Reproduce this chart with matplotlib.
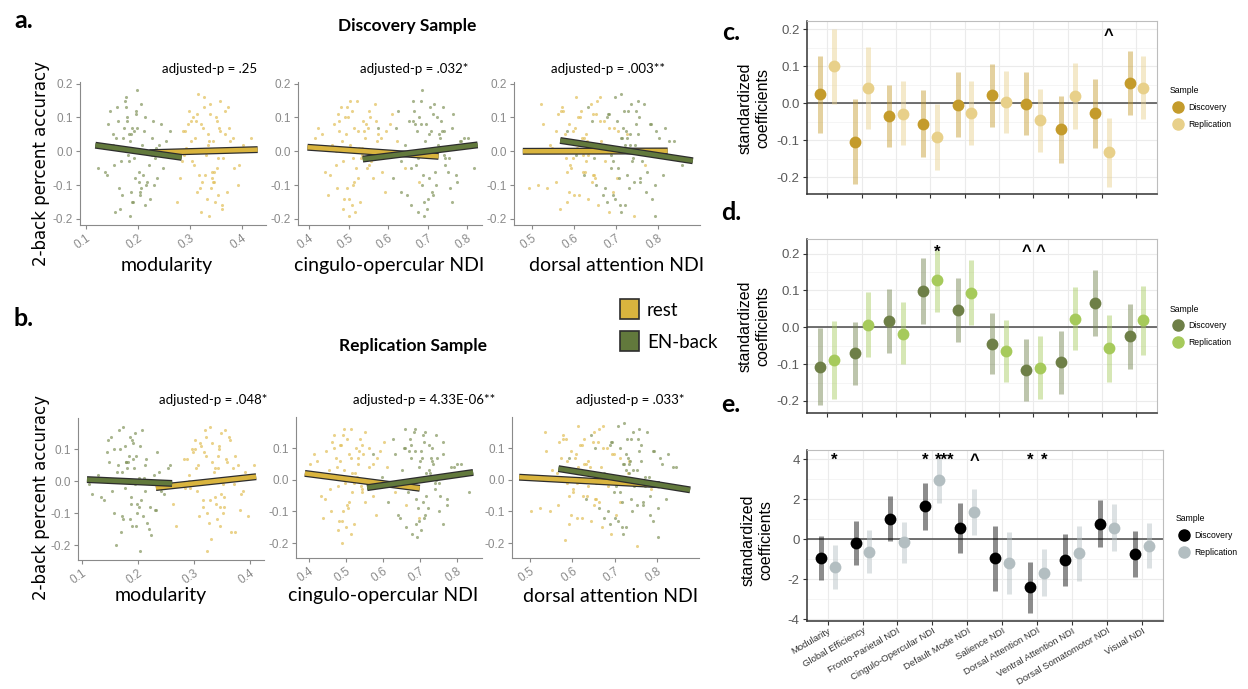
import numpy as np
import matplotlib.pyplot as plt
import matplotlib.patheffects as pe
from matplotlib.lines import Line2D
from matplotlib.patches import Rectangle

plt.rcParams['axes.unicode_minus'] = False

# ---- scatter clouds (approximate) ----
disc_mod_nback_x = [0.193,0.168,0.214,0.151,0.187,0.226,0.202,0.159,0.245,0.190,0.134,0.176,0.218,0.173,0.232,0.197,0.141,0.185,0.253,0.164,0.182,0.221,0.206,0.124,0.178,0.213,0.195,0.147,0.236,0.181,0.262,0.204,0.156,0.199,0.228,0.183,0.207,0.171,0.215,0.188,
                    0.184,0.209,0.162,0.203,0.234,0.175,0.192,0.143,0.223,0.186,0.201,0.154,0.241,0.196,0.166,0.212,0.137,0.205,0.179,0.227,0.158,0.194,0.248,0.177,0.216,0.169,0.198,0.231,0.152,0.189]
disc_mod_nback_y = [0.06,-0.03,0.10,0.02,-0.12,0.04,-0.06,0.13,0.08,-0.15,0.01,0.16,-0.09,0.07,-0.02,0.11,-0.07,-0.19,0.03,-0.11,0.05,-0.04,0.14,-0.05,0.09,-0.16,0.00,0.12,-0.08,-0.01,0.06,-0.13,-0.18,0.18,0.09,-0.03,0.02,0.04,-0.10,0.07,
                    0.03,-0.07,0.09,-0.12,0.01,0.15,-0.02,0.08,-0.14,0.05,-0.09,-0.04,0.02,0.12,-0.17,0.06,-0.06,-0.11,0.10,-0.01,0.04,-0.08,-0.05,0.13,0.00,-0.13,0.07,-0.10,0.05,-0.15]
disc_mod_rest_x = [0.334,0.307,0.352,0.293,0.341,0.373,0.318,0.302,0.364,0.327,0.274,0.356,0.385,0.313,0.346,0.402,0.322,0.287,0.368,0.331,0.354,0.296,0.418,0.343,0.316,0.377,0.281,0.349,0.336,0.309,0.392,0.338,0.303,0.361,0.324,0.345,0.329,0.357,0.312,0.371,
                   0.321,0.353,0.298,0.344,0.376,0.332,0.291,0.366,0.306,0.347,0.383,0.319,0.358,0.284,0.335,0.362,0.301,0.342,0.409,0.326,0.351,0.314,0.374,0.339,0.289,0.348,0.367,0.323,0.394,0.337]
disc_mod_rest_y = [0.05,-0.04,0.09,0.01,-0.11,0.13,-0.07,0.03,-0.02,0.16,-0.15,0.07,-0.05,0.11,-0.09,0.02,-0.18,0.06,0.12,-0.01,-0.13,0.08,0.04,-0.06,0.17,0.00,-0.08,0.10,-0.19,0.04,-0.10,0.14,-0.03,-0.16,0.07,0.03,-0.07,0.06,0.09,-0.12,
                   0.08,-0.02,0.12,-0.09,0.03,-0.14,0.06,0.00,0.10,-0.06,0.04,-0.11,0.15,-0.03,0.02,-0.17,0.09,-0.08,0.01,0.13,-0.05,-0.12,0.07,0.11,-0.01,-0.15,0.05,-0.09,-0.04,0.03]
disc_co_rest_x = [0.523,0.487,0.554,0.458,0.512,0.583,0.496,0.441,0.545,0.528,0.467,0.562,0.611,0.493,0.517,0.423,0.551,0.504,0.593,0.476,0.534,0.452,0.572,0.508,0.643,0.501,0.538,0.472,0.526,0.604,0.489,0.566,0.414,0.531,0.678,0.515,0.483,0.547,0.498,0.574,
                  0.503,0.536,0.468,0.553,0.514,0.477,0.564,0.521,0.447,0.542,0.492,0.586,0.509,0.463,0.533,0.497,0.622,0.481,0.557,0.524,0.432,0.569,0.502,0.544,0.474,0.518,0.596,0.486,0.549,0.511]
disc_co_rest_y = [0.06,-0.03,0.10,0.02,-0.10,0.04,0.13,-0.06,0.08,-0.15,0.00,-0.08,0.11,0.05,-0.18,0.07,-0.04,0.15,-0.12,0.09,-0.01,-0.07,0.03,0.12,-0.05,-0.19,0.06,-0.11,0.01,0.08,-0.14,0.14,0.04,-0.02,-0.09,0.07,0.03,-0.05,0.10,0.05,
                  0.02,0.09,-0.04,0.12,-0.09,0.06,-0.01,0.15,-0.13,0.04,0.10,-0.06,-0.16,0.08,0.01,-0.11,0.03,0.13,-0.03,-0.08,0.05,0.09,-0.14,0.00,0.11,-0.05,0.06,-0.17,0.07,-0.02]
disc_co_nback_x = [0.703,0.671,0.734,0.642,0.712,0.763,0.688,0.624,0.745,0.683,0.721,0.784,0.657,0.697,0.593,0.752,0.714,0.648,0.803,0.692,0.736,0.632,0.707,0.774,0.679,0.743,0.574,0.701,0.726,0.663,0.818,0.686,0.756,0.612,0.717,0.731,0.676,0.709,0.762,0.668,
                   0.694,0.723,0.658,0.738,0.705,0.673,0.754,0.716,0.633,0.728,0.684,0.772,0.699,0.652,0.724,0.687,0.792,0.667,0.744,0.713,0.621,0.765,0.691,0.733,0.662,0.718,0.783,0.677,0.741,0.706]
disc_co_nback_y = [0.05,-0.04,0.09,0.02,-0.12,0.07,-0.07,0.12,-0.02,0.15,-0.10,0.03,-0.16,0.08,0.00,-0.06,0.11,-0.13,0.04,-0.19,0.06,-0.03,0.13,-0.09,0.10,-0.01,0.07,-0.14,0.02,0.09,-0.05,0.18,-0.11,-0.08,0.01,0.04,-0.02,0.06,-0.15,0.08,
                   0.03,0.10,-0.05,0.13,-0.08,0.06,-0.02,0.14,-0.12,0.05,0.08,-0.07,-0.17,0.09,0.00,-0.10,0.04,0.12,-0.04,-0.13,0.07,0.11,-0.15,0.01,0.15,-0.06,0.03,-0.18,0.06,-0.01]
disc_da_rest_x = [0.624,0.583,0.652,0.547,0.613,0.684,0.598,0.521,0.643,0.628,0.567,0.661,0.714,0.593,0.617,0.492,0.664,0.604,0.702,0.558,0.634,0.542,0.673,0.609,0.742,0.587,0.646,0.572,0.621,0.693,0.579,0.654,0.513,0.631,0.768,0.602,0.657,0.562,0.626,0.723,
                  0.597,0.633,0.574,0.648,0.612,0.584,0.672,0.619,0.536,0.641,0.591,0.694,0.608,0.556,0.644,0.601,0.726,0.582,0.663,0.622,0.527,0.683,0.606,0.651,0.569,0.629,0.704,0.588,0.662,0.614]
disc_da_rest_y = [0.04,-0.06,0.11,0.01,-0.13,0.07,-0.02,0.14,-0.09,0.05,-0.17,0.09,0.00,-0.05,0.12,-0.11,0.03,0.16,-0.08,0.06,-0.14,0.02,-0.03,0.10,-0.19,0.08,-0.07,0.13,-0.01,-0.12,0.05,0.15,-0.10,0.03,-0.04,0.07,-0.16,0.11,-0.06,0.01,
                  0.06,-0.01,0.12,-0.07,0.02,-0.15,0.09,0.04,-0.11,0.14,-0.04,0.07,0.01,-0.09,0.11,-0.13,0.05,-0.02,0.16,-0.06,0.08,-0.18,0.03,-0.08,0.12,-0.03,0.06,-0.12,0.00,0.10]
disc_da_nback_x = [0.723,0.687,0.754,0.663,0.732,0.784,0.708,0.634,0.762,0.698,0.743,0.803,0.679,0.717,0.604,0.774,0.728,0.668,0.827,0.712,0.752,0.647,0.736,0.792,0.703,0.764,0.583,0.721,0.744,0.682,0.856,0.713,0.771,0.623,0.734,0.748,0.693,0.726,0.786,0.812,
                   0.714,0.738,0.684,0.757,0.718,0.692,0.782,0.733,0.652,0.753,0.704,0.796,0.722,0.673,0.747,0.709,0.838,0.688,0.766,0.727,0.643,0.794,0.711,0.758,0.678,0.741,0.817,0.697,0.773,0.719]
disc_da_nback_y = [0.06,-0.05,0.10,0.01,-0.11,0.08,-0.08,0.13,-0.03,0.16,-0.09,0.04,-0.15,0.07,-0.01,-0.06,0.12,-0.13,0.03,-0.18,0.05,-0.02,0.14,-0.10,0.09,0.00,0.06,-0.16,0.02,0.11,-0.04,0.17,-0.12,-0.07,0.02,0.08,-0.03,0.04,-0.14,-0.07,
                   0.04,-0.03,0.11,-0.08,0.01,-0.13,0.08,0.05,-0.10,0.15,-0.05,0.06,0.02,-0.11,0.12,-0.16,0.03,-0.01,0.14,-0.07,0.09,-0.19,0.04,-0.09,0.10,-0.02,0.07,-0.14,0.00,0.12]

rep_mod_nback_x = [0.192,0.177,0.204,0.163,0.171,0.213,0.188,0.152,0.234,0.197,0.128,0.174,0.221,0.183,0.242,0.191,0.139,0.203,0.254,0.158,0.179,0.212,0.194,0.118,0.168,0.224,0.201,0.147,0.233,0.182,0.258,0.186,0.161,0.208,0.113,0.184,0.199,0.172,0.219,0.193,
                   0.181,0.205,0.157,0.209,0.228,0.166,0.195,0.144,0.217,0.178,0.202,0.153,0.238,0.189,0.169,0.214,0.134,0.198,0.176,0.226,0.164,0.187,0.247,0.185,0.211,0.173,0.196,0.231,0.149,0.190]
rep_mod_nback_y = [0.07,-0.02,0.11,0.03,-0.11,0.05,-0.05,0.14,0.09,-0.14,0.02,0.17,-0.08,0.06,-0.03,0.12,-0.06,-0.22,0.04,-0.10,0.06,-0.03,0.15,-0.04,0.10,-0.17,0.01,0.13,-0.09,0.00,0.05,-0.12,-0.20,0.16,-0.01,0.08,-0.07,0.03,-0.15,0.04,
                   0.04,-0.06,0.10,-0.11,0.02,0.16,-0.01,0.09,-0.13,0.06,-0.08,-0.03,0.03,0.13,-0.16,0.07,-0.05,-0.10,0.11,0.00,0.05,-0.07,-0.04,0.14,0.01,-0.12,0.08,-0.09,0.06,-0.14]
rep_mod_rest_x = [0.332,0.306,0.344,0.292,0.351,0.363,0.317,0.303,0.372,0.328,0.268,0.343,0.384,0.311,0.353,0.391,0.323,0.282,0.364,0.334,0.341,0.298,0.408,0.354,0.319,0.362,0.262,0.345,0.331,0.308,0.383,0.348,0.293,0.374,0.321,0.342,0.329,0.358,0.302,0.397,
                  0.318,0.352,0.301,0.346,0.369,0.327,0.288,0.361,0.313,0.338,0.379,0.324,0.355,0.284,0.336,0.366,0.297,0.339,0.401,0.322,0.349,0.309,0.373,0.333,0.291,0.347,0.359,0.316,0.388,0.337]
rep_mod_rest_y = [0.06,-0.03,0.10,0.02,-0.10,0.14,-0.06,0.04,-0.01,0.17,-0.14,0.08,-0.04,0.12,-0.08,0.03,-0.22,0.07,0.13,0.00,-0.12,0.09,0.05,-0.05,0.16,0.01,-0.07,0.11,-0.18,0.05,-0.09,0.15,-0.02,-0.16,0.08,0.04,-0.06,0.07,0.10,-0.11,
                  0.09,-0.01,0.13,-0.08,0.04,-0.13,0.07,0.01,0.11,-0.05,0.05,-0.10,0.16,-0.02,0.03,-0.16,0.10,-0.07,0.02,0.14,-0.04,-0.11,0.08,0.12,0.00,-0.14,0.06,-0.08,-0.03,0.04]
rep_co_rest_x = [0.513,0.478,0.542,0.453,0.504,0.572,0.491,0.432,0.534,0.522,0.463,0.551,0.603,0.484,0.514,0.412,0.543,0.493,0.582,0.468,0.524,0.443,0.561,0.502,0.632,0.489,0.533,0.458,0.517,0.593,0.481,0.552,0.403,0.521,0.664,0.507,0.474,0.544,0.486,0.698,
                 0.494,0.526,0.457,0.538,0.503,0.472,0.553,0.512,0.437,0.531,0.483,0.574,0.501,0.446,0.523,0.492,0.612,0.467,0.541,0.508,0.421,0.563,0.488,0.529,0.462,0.516,0.584,0.479,0.546,0.497]
rep_co_rest_y = [0.07,-0.02,0.11,0.03,-0.09,0.05,0.14,-0.05,0.09,-0.14,0.01,-0.07,0.12,0.06,-0.17,0.08,-0.03,0.16,-0.11,0.10,0.00,-0.06,0.04,0.13,-0.04,-0.20,0.07,-0.10,0.02,0.09,-0.13,0.15,0.05,-0.01,-0.08,0.08,0.04,-0.04,0.11,-0.12,
                 0.03,0.10,-0.03,0.13,-0.08,0.07,0.00,0.16,-0.12,0.05,0.11,-0.05,-0.15,0.09,0.02,-0.10,0.04,0.14,-0.02,-0.07,0.06,0.10,-0.13,0.01,0.12,-0.04,0.07,-0.16,0.08,-0.01]
rep_co_nback_x = [0.702,0.681,0.733,0.652,0.713,0.764,0.691,0.628,0.742,0.684,0.722,0.793,0.663,0.704,0.598,0.754,0.712,0.647,0.812,0.693,0.731,0.622,0.708,0.773,0.677,0.744,0.572,0.698,0.724,0.659,0.834,0.687,0.752,0.613,0.716,0.737,0.682,0.706,0.763,0.671,
                  0.697,0.726,0.668,0.743,0.709,0.676,0.753,0.714,0.642,0.732,0.688,0.774,0.703,0.657,0.721,0.694,0.802,0.673,0.741,0.711,0.632,0.762,0.689,0.728,0.661,0.717,0.784,0.679,0.746,0.701]
rep_co_nback_y = [0.06,-0.03,0.10,0.03,-0.11,0.08,-0.06,0.13,-0.01,0.15,-0.09,0.04,-0.15,0.09,0.01,-0.05,0.12,-0.12,0.05,-0.18,0.07,-0.02,0.14,-0.08,0.11,0.00,0.08,-0.13,0.03,0.10,-0.04,0.16,-0.10,-0.07,0.02,0.05,-0.01,0.07,-0.14,0.09,
                  0.04,0.11,-0.04,0.14,-0.07,0.07,-0.01,0.15,-0.11,0.06,0.09,-0.06,-0.16,0.10,0.01,-0.09,0.05,0.13,-0.03,-0.12,0.08,0.12,-0.14,0.02,0.16,-0.05,0.04,-0.17,0.07,0.00]
rep_da_rest_x = [0.632,0.593,0.661,0.564,0.622,0.693,0.612,0.534,0.651,0.638,0.583,0.672,0.724,0.602,0.627,0.503,0.668,0.614,0.712,0.573,0.643,0.552,0.684,0.618,0.753,0.597,0.654,0.577,0.631,0.703,0.588,0.663,0.523,0.642,0.786,0.609,0.671,0.568,0.634,0.732,
                 0.606,0.643,0.584,0.657,0.621,0.592,0.682,0.628,0.547,0.652,0.601,0.698,0.616,0.566,0.648,0.611,0.734,0.587,0.673,0.626,0.538,0.692,0.613,0.664,0.579,0.637,0.714,0.596,0.667,0.624]
rep_da_rest_y = [0.05,-0.05,0.12,0.02,-0.12,0.08,-0.01,0.15,-0.08,0.06,-0.19,0.10,0.01,-0.04,0.13,-0.10,0.04,0.17,-0.07,0.07,-0.13,0.03,-0.02,0.11,-0.21,0.09,-0.06,0.14,0.00,-0.11,0.06,0.16,-0.09,0.04,-0.03,0.08,-0.15,0.12,-0.05,0.02,
                 0.07,0.00,0.13,-0.06,0.03,-0.14,0.10,0.05,-0.10,0.15,-0.03,0.08,0.02,-0.08,0.12,-0.12,0.06,-0.01,0.17,-0.05,0.09,-0.17,0.04,-0.07,0.13,-0.02,0.07,-0.11,0.01,0.11]
rep_da_nback_x = [0.732,0.698,0.762,0.674,0.741,0.793,0.717,0.643,0.772,0.708,0.754,0.812,0.689,0.728,0.613,0.783,0.738,0.676,0.838,0.719,0.763,0.657,0.744,0.803,0.712,0.771,0.593,0.727,0.752,0.691,0.864,0.722,0.784,0.632,0.743,0.757,0.703,0.734,0.792,0.821,
                  0.723,0.747,0.694,0.768,0.733,0.702,0.791,0.737,0.662,0.759,0.714,0.807,0.728,0.684,0.756,0.718,0.846,0.697,0.776,0.739,0.653,0.802,0.721,0.767,0.688,0.748,0.826,0.707,0.781,0.729]
rep_da_nback_y = [0.07,-0.04,0.11,0.02,-0.10,0.09,-0.07,0.14,-0.02,0.17,-0.08,0.05,-0.14,0.08,0.00,-0.05,0.13,-0.12,0.04,-0.17,0.06,-0.01,0.15,-0.09,0.10,0.01,0.07,-0.15,0.03,0.12,-0.03,0.18,-0.11,-0.06,0.03,0.09,-0.02,0.05,-0.13,-0.06,
                  0.05,-0.02,0.12,-0.07,0.02,-0.12,0.09,0.06,-0.09,0.16,-0.04,0.07,0.03,-0.10,0.13,-0.15,0.04,0.00,0.15,-0.06,0.10,-0.18,0.05,-0.08,0.11,-0.01,0.08,-0.13,0.01,0.13]

# fitted lines: [x0, x1, y0, y1]
disc_mod_rest_fit = [0.222, 0.430, -0.004, 0.005]
disc_mod_nback_fit = [0.118, 0.284, 0.018, -0.018]
disc_co_rest_fit = [0.396, 0.728, 0.012, -0.015]
disc_co_nback_fit = [0.536, 0.827, -0.023, 0.019]
disc_da_rest_fit = [0.478, 0.823, 0.000, 0.001]
disc_da_nback_fit = [0.567, 0.883, 0.032, -0.028]
rep_mod_rest_fit = [0.232, 0.411, -0.020, 0.014]
rep_mod_nback_fit = [0.109, 0.261, 0.005, -0.007]
rep_co_rest_fit = [0.388, 0.700, 0.020, -0.027]
rep_co_nback_fit = [0.557, 0.845, -0.025, 0.023]
rep_da_rest_fit = [0.474, 0.807, 0.008, -0.016]
rep_da_nback_fit = [0.567, 0.879, 0.035, -0.032]

disc_pvals = ['adjusted-p = .25', 'adjusted-p = .032*', 'adjusted-p = .003**']
rep_pvals = ['adjusted-p = .048*', 'adjusted-p = 4.33E-06**', 'adjusted-p = .033*']
scatter_xlabels = ['modularity', 'cingulo-opercular NDI', 'dorsal attention NDI']

# ---- coefficient panels ----
categories = ['Modularity', 'Global Efficiency', 'Fronto-Parietal NDI', 'Cingulo-Opercular NDI',
              'Default Mode NDI', 'Salience NDI', 'Dorsal Attention NDI', 'Ventral Attention NDI',
              'Dorsal Somatomotor NDI', 'Visual NDI']

c_disc = [0.024, -0.104, -0.034, -0.055, -0.004, 0.022, -0.003, -0.070, -0.027, 0.056]
c_disc_lo = [-0.081, -0.219, -0.118, -0.144, -0.090, -0.063, -0.087, -0.160, -0.120, -0.032]
c_disc_hi = [0.129, 0.012, 0.050, 0.035, 0.085, 0.106, 0.085, 0.020, 0.066, 0.141]
c_rep = [0.101, 0.041, -0.028, -0.092, -0.026, 0.003, -0.046, 0.019, -0.132, 0.041]
c_rep_lo = [-0.002, -0.070, -0.114, -0.181, -0.112, -0.081, -0.131, -0.070, -0.225, -0.043]
c_rep_hi = [0.201, 0.152, 0.059, -0.003, 0.059, 0.088, 0.038, 0.109, -0.039, 0.127]

d_disc = [-0.109, -0.071, 0.016, 0.099, 0.047, -0.045, -0.116, -0.095, 0.066, -0.024]
d_disc_lo = [-0.211, -0.157, -0.070, 0.009, -0.041, -0.128, -0.200, -0.181, -0.023, -0.114]
d_disc_hi = [-0.003, 0.014, 0.103, 0.188, 0.135, 0.039, -0.031, -0.009, 0.156, 0.064]
d_rep = [-0.090, 0.007, -0.017, 0.129, 0.094, -0.065, -0.110, 0.023, -0.056, 0.019]
d_rep_lo = [-0.195, -0.080, -0.101, 0.042, 0.006, -0.148, -0.195, -0.062, -0.148, -0.074]
d_rep_hi = [0.017, 0.095, 0.068, 0.210, 0.183, 0.019, -0.025, 0.109, 0.034, 0.111]

e_disc = [-0.93, -0.20, 1.02, 1.63, 0.53, -0.97, -2.38, -1.07, 0.77, -0.77]
e_disc_lo = [-2.05, -1.28, -0.08, 0.47, -0.70, -2.58, -3.68, -2.35, -0.42, -1.92]
e_disc_hi = [0.17, 0.90, 2.13, 2.80, 1.82, 0.67, -1.13, 0.25, 1.95, 0.38]
e_rep = [-1.40, -0.65, -0.17, 2.95, 1.35, -1.18, -1.68, -0.72, 0.55, -0.33]
e_rep_lo = [-2.50, -1.68, -1.20, 1.82, 0.18, -2.75, -2.87, -2.08, -0.62, -1.43]
e_rep_hi = [-0.30, 0.45, 0.85, 4.03, 2.50, 0.37, -0.48, 0.67, 1.75, 0.82]

# significance marks: (category number, sample, symbol)
c_marks = [(9, 'R', '^')]
d_marks = [(4, 'R', '*'), (7, 'D', '^'), (7, 'R', '^')]
e_marks = [(1, 'R', '*'), (4, 'D', '*'), (4, 'R', '***'), (5, 'R', '^'), (7, 'D', '*'), (7, 'R', '*')]

W, H = 1248, 689
fig = plt.figure(figsize=(W / 100, H / 100), dpi=100)
FONT = 'Lato'

def box(l, t, r, b):
    return fig.add_axes([l / W, 1 - b / H, (r - l) / W, (b - t) / H])

def ftext(x, y, s, **kw):
    kw.setdefault('ha', 'center')
    kw.setdefault('va', 'center')
    fig.text(x / W, 1 - y / H, s, **kw)

rest_pt, nback_pt = '#E2C05A', '#84965E'
rest_ln, nback_ln = '#D9B43E', '#62793C'

def scatter_panel(pos, xlim, ylim, xticks, yticks, rest, nback, rest_fit, nback_fit):
    ax = box(*pos)
    ax.scatter(rest[0], rest[1], s=5, color=rest_pt, alpha=0.7, lw=0)
    ax.scatter(nback[0], nback[1], s=5, color=nback_pt, alpha=0.7, lw=0)
    for fit, col in [(rest_fit, rest_ln), (nback_fit, nback_ln)]:
        ax.plot(fit[:2], fit[2:], color=col, lw=3.2, solid_capstyle='butt',
                path_effects=[pe.Stroke(linewidth=5, foreground='#2d2d2d'), pe.Normal()])
    ax.set_xlim(xlim)
    ax.set_ylim(ylim)
    ax.set_xticks(xticks)
    ax.set_yticks(yticks)
    ax.set_xticklabels(['%.1f' % v for v in xticks], rotation=35, ha='right',
                       rotation_mode='anchor')
    ax.set_yticklabels(['%.1f' % v for v in yticks])
    for s in ['top', 'right']:
        ax.spines[s].set_visible(False)
    for s in ['left', 'bottom']:
        ax.spines[s].set_color('#8a8a8a')
    ax.tick_params(colors='#8a8a8a', labelsize=8.5, length=3, width=0.8, pad=2,
                   labelfontfamily='Liberation Sans')
    return ax

ya, yb = (-0.218, 0.205), (-0.247, 0.198)
yt_a, yt_b = [-0.2, -0.1, 0.0, 0.1, 0.2], [-0.2, -0.1, 0.0, 0.1]
scatter_panel((80, 82, 266, 225), (0.0885, 0.446), ya, [0.1, 0.2, 0.3, 0.4], yt_a,
              (disc_mod_rest_x, disc_mod_rest_y), (disc_mod_nback_x, disc_mod_nback_y),
              disc_mod_rest_fit, disc_mod_nback_fit)
scatter_panel((298, 82, 482, 225), (0.372, 0.838), ya, [0.4, 0.5, 0.6, 0.7, 0.8], yt_a,
              (disc_co_rest_x, disc_co_rest_y), (disc_co_nback_x, disc_co_nback_y),
              disc_co_rest_fit, disc_co_nback_fit)
scatter_panel((514, 82, 700, 225), (0.457, 0.90), ya, [0.5, 0.6, 0.7, 0.8], yt_a,
              (disc_da_rest_x, disc_da_rest_y), (disc_da_nback_x, disc_da_nback_y),
              disc_da_rest_fit, disc_da_nback_fit)
scatter_panel((78, 418, 264, 560), (0.093, 0.425), yb, [0.1, 0.2, 0.3, 0.4], yt_b,
              (rep_mod_rest_x, rep_mod_rest_y), (rep_mod_nback_x, rep_mod_nback_y),
              rep_mod_rest_fit, rep_mod_nback_fit)
scatter_panel((296, 417, 482, 558), (0.364, 0.869), yb, [0.4, 0.5, 0.6, 0.7, 0.8], yt_b,
              (rep_co_rest_x, rep_co_rest_y), (rep_co_nback_x, rep_co_nback_y),
              rep_co_rest_fit, rep_co_nback_fit)
scatter_panel((512, 417, 699, 558), (0.457, 0.90), yb, [0.5, 0.6, 0.7, 0.8], yt_b,
              (rep_da_rest_x, rep_da_rest_y), (rep_da_nback_x, rep_da_nback_y),
              rep_da_rest_fit, rep_da_nback_fit)

# figure text, left half
ftext(24, 20, 'a.', fontsize=18, fontweight='bold', family=FONT)
ftext(24, 318, 'b.', fontsize=18, fontweight='bold', family=FONT)
ftext(407, 26, 'Discovery Sample', fontsize=12.5, fontweight='bold', family=FONT)
ftext(413, 346, 'Replication Sample', fontsize=12.5, fontweight='bold', family=FONT)
for xc, s in zip([210, 414, 608], disc_pvals):
    ftext(xc, 69, s, fontsize=9.5, family=FONT)
for xc, s in zip([213, 424, 630], rep_pvals):
    ftext(xc, 400, s, fontsize=9.5, family=FONT)
for xc, s in zip([167, 389, 617], scatter_xlabels):
    ftext(xc, 266, s, fontsize=14, family=FONT)
for xc, s in zip([161, 383, 611], scatter_xlabels):
    ftext(xc, 596, s, fontsize=14, family=FONT)
ftext(41, 163, '2-back percent accuracy', fontsize=12, rotation=90, family='DejaVu Sans')
ftext(41, 497, '2-back percent accuracy', fontsize=12, rotation=90, family='DejaVu Sans')

# rest / EN-back legend
for top, col, lab in [(299, rest_ln, 'rest'), (331, nback_ln, 'EN-back')]:
    fig.add_artist(Rectangle((620 / W, 1 - (top + 20) / H), 19 / W, 20 / H,
                             transform=fig.transFigure, facecolor=col,
                             edgecolor='#2d2d2d', lw=1.2))
    ftext(647, top + 12, lab, fontsize=13.5, ha='left', family=FONT)

# ---- coefficient panels ----
def coef_panel(pos, ylim, yticks, yminor, fmt, disc, dlo, dhi, rep, rlo, rhi,
               dcol, rcol, marks, mark_y, show_labels):
    ax = box(*pos)
    x = np.arange(1, len(categories) + 1)
    for v in yticks:
        ax.axhline(v, color='#EBEBEB', lw=0.8, zorder=0)
    for v in yminor:
        ax.axhline(v, color='#F4F4F4', lw=0.6, zorder=0)
    for v in x:
        ax.axvline(v, color='#EBEBEB', lw=0.8, zorder=0)
    ax.axhline(0, color='#4a4a4a', lw=1.1, zorder=1)
    ax.vlines(x - 0.2, dlo, dhi, color=dcol, alpha=0.45, lw=3.6, zorder=2)
    ax.vlines(x + 0.2, rlo, rhi, color=rcol, alpha=0.45, lw=3.6, zorder=2)
    ax.plot(x - 0.2, disc, 'o', color=dcol, ms=8.5, mew=0, zorder=3)
    ax.plot(x + 0.2, rep, 'o', color=rcol, ms=8.5, mew=0, zorder=3)
    for cat, smp, sym in marks:
        xo = cat - 0.2 if smp == 'D' else cat + 0.2
        if len(sym) > 1:
            xo += 0.14
        ax.text(xo, mark_y, sym, ha='center', va='center', fontsize=12,
                fontweight='bold', family='Liberation Sans', zorder=4)
    ax.set_xlim(0.4, len(categories) + 0.6)
    ax.set_ylim(ylim)
    ax.set_yticks(yticks)
    ax.set_yticklabels([fmt % v for v in yticks], family='Liberation Sans')
    ax.set_xticks(x)
    if show_labels:
        ax.set_xticklabels(categories, rotation=30, ha='right', rotation_mode='anchor',
                           fontsize=6.8, color='#555555', family='Liberation Sans')
        ax.tick_params(axis='x', pad=1)
    else:
        ax.set_xticklabels([])
    for s in ['top', 'right']:
        ax.spines[s].set_color('#BDBDBD')
    for s in ['left', 'bottom']:
        ax.spines[s].set_color('#333333')
        ax.spines[s].set_linewidth(1.1)
    ax.tick_params(axis='y', colors='#333333', labelcolor='#5a5a5a', labelsize=9.5,
                   length=3, pad=2)
    ax.tick_params(axis='x', colors='#333333', length=3)
    handles = [Line2D([], [], ls='', marker='o', ms=8, color=dcol, label='Discovery'),
               Line2D([], [], ls='', marker='o', ms=8, color=rcol, label='Replication')]
    ax.legend(handles=handles, title='Sample', loc='center left',
              bbox_to_anchor=(1.025, 0.5), frameon=False,
              prop={'family': 'Liberation Sans', 'size': 6.2},
              title_fontproperties={'family': 'Liberation Sans', 'size': 6.2},
              handletextpad=0.2, labelspacing=0.9, alignment='left', borderaxespad=0)
    return ax

yt_cd = [-0.2, -0.1, 0.0, 0.1, 0.2]
ym_cd = [-0.15, -0.05, 0.05, 0.15]
coef_panel((806.6, 20.7, 1157, 194), (-0.245, 0.223), yt_cd, ym_cd, '%.1f',
           c_disc, c_disc_lo, c_disc_hi, c_rep, c_rep_lo, c_rep_hi,
           '#C49B2B', '#E8D08A', c_marks, 0.183, False)
coef_panel((806.6, 239.3, 1157, 412.7), (-0.232, 0.239), yt_cd, ym_cd, '%.1f',
           d_disc, d_disc_lo, d_disc_hi, d_rep, d_rep_lo, d_rep_hi,
           '#6E7F47', '#A6CA5B', d_marks, 0.205, False)
coef_panel((806.6, 450, 1163, 620.7), (-4.08, 4.45), [-4, -2, 0, 2, 4], [-3, -1, 1, 3], '%d',
           e_disc, e_disc_lo, e_disc_hi, e_rep, e_rep_lo, e_rep_hi,
           '#000000', '#B3BEC1', e_marks, 3.95, True)

ftext(731, 32, 'c.', fontsize=18, fontweight='bold', family=FONT)
ftext(731, 212, 'd.', fontsize=18, fontweight='bold', family=FONT)
ftext(731, 405, 'e.', fontsize=18, fontweight='bold', family=FONT)
for yc, xc in [(108, 754), (326, 754), (540, 757)]:
    ftext(xc, yc, 'standardized\ncoefficients', fontsize=11.5, rotation=90,
          family='Liberation Sans', linespacing=1.25)

fig.savefig('out.png', dpi=100)
